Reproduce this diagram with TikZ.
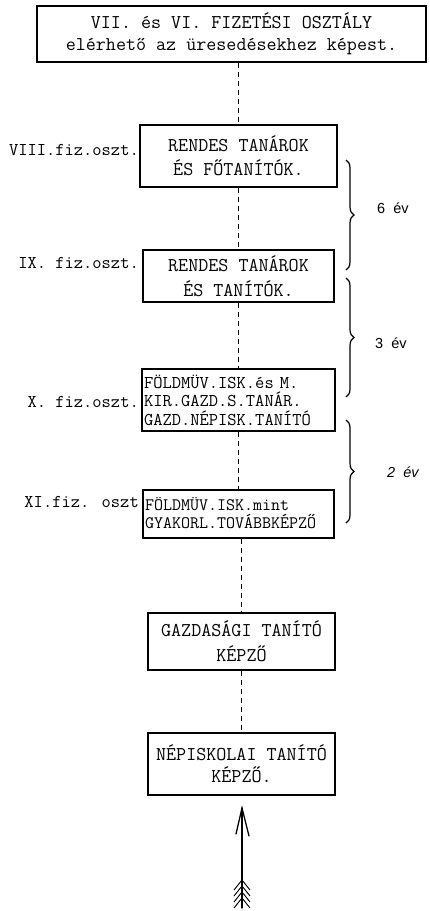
\documentclass[tikz,border=0pt]{standalone}
\usepackage{fontspec}
\newfontfamily\sansf{Liberation Sans}
\usetikzlibrary{decorations.pathreplacing}
\tikzset{
  box/.style={draw, line width=2pt, rectangle, inner xsep=1pt, inner ysep=0pt, align=center,
    font=\ttfamily\fontsize{19.5}{24}\selectfont},
  lbl/.style={anchor=east, inner sep=0pt, font=\ttfamily\fontsize{18}{20}\selectfont},
  yr/.style={anchor=west, inner sep=0pt, font=\sansf\fontsize{14.5}{16}\selectfont},
  conn/.style={line width=1.3pt, dash pattern=on 5pt off 4pt},
  brc/.style={line width=1.2pt, decorate, decoration={brace, amplitude=8pt}},
  arr/.style={line width=1.3pt, line cap=round}
}
\begin{document}
\begin{tikzpicture}[x=1pt,y=-1pt]
\useasboundingbox (0,0) rectangle (429,911);
% boxes
\node[box, minimum width=389pt, minimum height=56pt, font=\ttfamily\fontsize{19.5}{22}\selectfont] (top) at (231.5,34)
  {VII. és VI. FIZETÉSI OSZTÁLY\\elérhető az üresedésekhez képest.};
\node[box, minimum width=197pt, minimum height=62pt] (b1) at (238.5,156)
  {RENDES TANÁROK\\ÉS FŐTANÍTÓK.};
\node[box, minimum width=191pt, minimum height=52pt, font=\ttfamily\fontsize{19.5}{25}\selectfont] (b2) at (238.5,276)
  {RENDES TANÁROK\\ÉS TANÍTÓK.};
\node[box, minimum width=193pt, minimum height=62pt, align=left, font=\ttfamily\fontsize{18}{18.5}\selectfont, text width=189pt] (b3) at (238.5,400)
  {FÖLDMÜV.ISK.és M.\\KIR.GAZD.S.TANÁR.\\GAZD.NÉPISK.TANÍTÓ};
\node[box, minimum width=191pt, minimum height=48pt, align=left, font=\ttfamily\fontsize{17.5}{18}\selectfont, text width=187pt] (b4) at (238.5,513.5)
  {FÖLDMÜV.ISK.mint\\GYAKORL.TOVÁBBKÉPZŐ};
\node[box, minimum width=187pt, minimum height=57pt, font=\ttfamily\fontsize{19.5}{25}\selectfont] (b5) at (241.5,641.5)
  {GAZDASÁGI TANÍTÓ\\KÉPZŐ};
\node[box, minimum width=187pt, minimum height=62pt, font=\ttfamily\fontsize{19.5}{22}\selectfont] (b6) at (241.5,764)
  {NÉPISKOLAI TANÍTÓ\\KÉPZŐ.};
% left labels
\node[lbl] (l1) at (139,150) {VIII.fiz.oszt.};
\node[lbl] (l2) at (139,263) {IX. fiz.oszt.};
\node[lbl] (l3) at (139,402) {X. fiz.oszt.};
\node[lbl] (l4) at (139,502) {XI.fiz. oszt};
% dashed connectors
\draw[conn] (top.south -| b1.north) -- (b1.north);
\draw[conn] (b1.south) -- (b1.south |- b2.north);
\draw[conn] (b2.south) -- (b2.south |- b3.north);
\draw[conn] (b3.south) -- (b3.south |- b4.north);
\draw[conn] (b4.south -| b5.north) -- (b5.north);
\draw[conn] (b5.south) -- (b6.north);
% braces
\draw[brc] (346,160) -- (346,270);
\draw[brc] (346,278) -- (346,397);
\draw[brc] (346,420) -- (346,523);
\node[yr] (y1) at (377,208) {6\hspace{8pt}év};
\node[yr] (y2) at (375,343) {3\hspace{8pt}év};
\node[yr, font=\sansf\itshape\fontsize{14.5}{16}\selectfont] (y3) at (387,472) {2\hspace{8pt}év};
% arrow
\coordinate (tail) at (242,908);
\coordinate (tip) at (242,808);
\draw[arr] (tail) -- (tip);
\draw[arr] (236,834) -- (tip) -- (249,836);
\foreach \yy in {880,886,892,898}{
  \draw[line width=0.9pt] (242,\yy) -- (234,\yy+10);
  \draw[line width=0.9pt] (242,\yy) -- (250,\yy+10);
}
\end{tikzpicture}
\end{document}
